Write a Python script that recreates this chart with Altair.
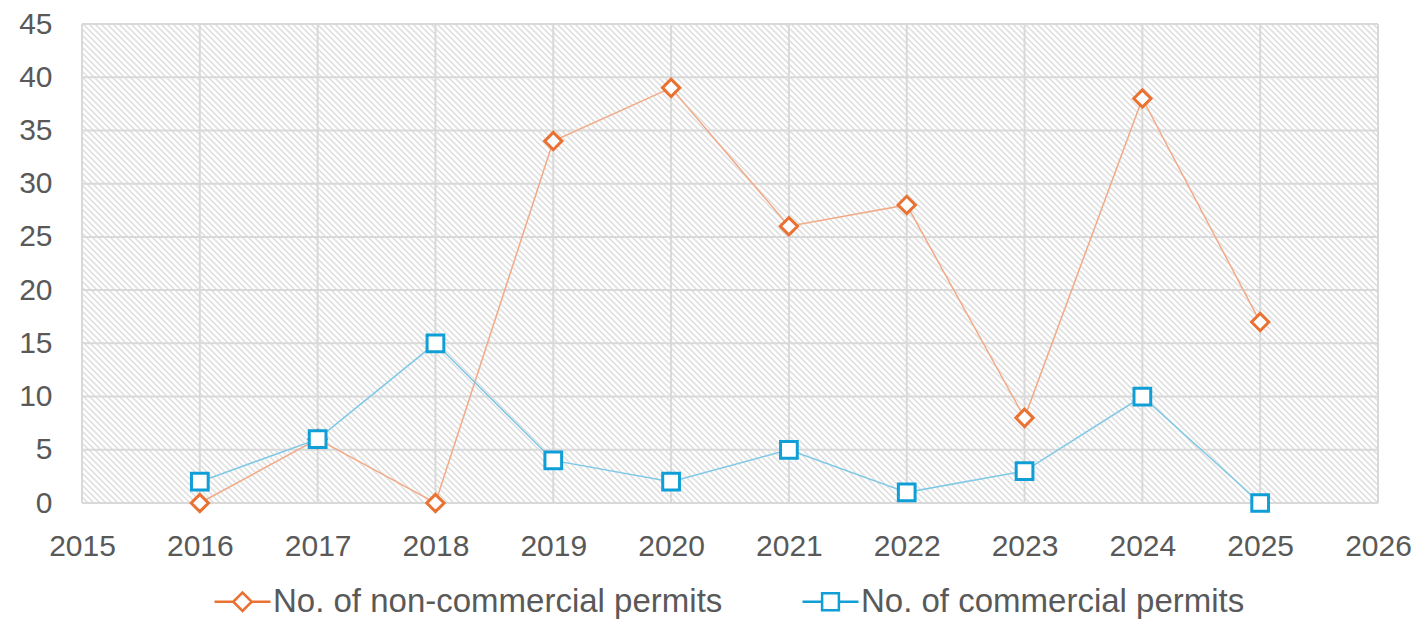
import altair as alt
import pandas as pd

years = [2016, 2017, 2018, 2019, 2020, 2021, 2022, 2023, 2024, 2025]
non_commercial = [0, 6, 0, 34, 39, 26, 28, 8, 38, 17]
commercial = [2, 6, 15, 4, 2, 5, 1, 3, 10, 0]
series_names = ["No. of non-commercial permits", "No. of commercial permits"]
x_ticks = list(range(2015, 2027))
y_ticks = list(range(0, 50, 5))

rows = []
for name, vals in zip(series_names, [non_commercial, commercial]):
    for yr, v in zip(years, vals):
        rows.append({"year": yr, "value": v, "series": name})
df = pd.DataFrame(rows)

W, H = 1296, 479
marker_colors = ["#E97132", "#0F9ED5"]
line_colors = ["#F2AA86", "#7FC8E6"]
text_color = "#595959"
grid_color = "#d9d9d9"
font = "Liberation Sans"

x0, x1 = x_ticks[0], x_ticks[-1]
y0, y1 = y_ticks[0], y_ticks[-1]
x_scale = alt.Scale(domain=[x0, x1], nice=False, zero=False)
y_scale = alt.Scale(domain=[y0, y1], nice=False)

x_axis = alt.Axis(
    values=x_ticks, format="d", title=None, grid=False, ticks=False, domain=False,
    labelPadding=28, labelFontSize=30, labelFont=font, labelColor=text_color,
    labelFlush=False, labelOverlap=False,
)
y_axis = alt.Axis(
    values=y_ticks, title=None, grid=False, ticks=False, domain=False,
    labelPadding=30, labelFontSize=30, labelFont=font, labelColor=text_color,
    labelFlush=False, labelOverlap=False,
)

# diagonal hatch texture of the plot area (downward diagonal, ~6px pitch)
pitch = 6
ux = W / (x1 - x0)
hatch_rows = []
for k in range(int((W + H) / pitch) + 2):
    start = -H + pitch * k
    hatch_rows.append({
        "hx": x0 + start / ux, "hy": y1,
        "hx2": x0 + (start + H) / ux, "hy2": y0,
    })
hatch_df = pd.DataFrame(hatch_rows)

hatch = alt.Chart(hatch_df).mark_rule(clip=True, strokeWidth=1.4, color="#dcdcdc").encode(
    x=alt.X("hx:Q", scale=x_scale, axis=x_axis),
    y=alt.Y("hy:Q", scale=y_scale, axis=y_axis),
    x2="hx2:Q", y2="hy2:Q",
)

vgrid = alt.Chart(pd.DataFrame({"gx": x_ticks})).mark_rule(color=grid_color, strokeWidth=2).encode(
    x=alt.X("gx:Q", scale=x_scale, axis=x_axis),
)
hgrid = alt.Chart(pd.DataFrame({"gy": y_ticks})).mark_rule(color=grid_color, strokeWidth=2).encode(
    y=alt.Y("gy:Q", scale=y_scale, axis=y_axis),
)

x_enc = alt.X("year:Q", scale=x_scale, axis=x_axis)
y_enc = alt.Y("value:Q", scale=y_scale, axis=y_axis)

base = alt.Chart(df)

line_nc = base.transform_filter(alt.datum.series == series_names[0]).mark_line(
    strokeWidth=1.5, color=line_colors[0]
).encode(x=x_enc, y=y_enc)
line_c = base.transform_filter(alt.datum.series == series_names[1]).mark_line(
    strokeWidth=1.5, color=line_colors[1]
).encode(x=x_enc, y=y_enc)

pts_nc = base.transform_filter(alt.datum.series == series_names[0]).mark_point(
    shape="diamond", size=300, filled=False, fill="white", stroke=marker_colors[0],
    strokeWidth=3, opacity=1,
).encode(x=x_enc, y=y_enc)

pts_c = base.transform_filter(alt.datum.series == series_names[1]).mark_point(
    shape="square", size=280, filled=False, fill="white", stroke=marker_colors[1],
    strokeWidth=3, opacity=1,
).encode(x=x_enc, y=y_enc)

legend_paths = [
    "M-1,0L-0.33,0M-0.33,0L0,-0.33L0.33,0L0,0.33ZM0.33,0L1,0",
    "M-1,0L-0.3,0M-0.3,-0.3L0.3,-0.3L0.3,0.3L-0.3,0.3ZM0.3,0L1,0",
]
leg = alt.Legend(
    orient="none", legendX=131, legendY=548, direction="horizontal", title=None,
    labelFontSize=33, labelFont=font, labelColor=text_color, labelLimit=800,
    symbolSize=3136, symbolStrokeWidth=2.5, symbolOpacity=1, symbolFillColor="white",
    labelOffset=1, columnPadding=74,
)
legend_layer = base.mark_point(strokeWidth=2.5, opacity=0).encode(
    x=x_enc, y=y_enc,
    stroke=alt.Stroke("series:N", scale=alt.Scale(domain=series_names, range=marker_colors), legend=leg),
    shape=alt.Shape("series:N", scale=alt.Scale(domain=series_names, range=legend_paths), legend=leg),
)

chart = alt.layer(hatch, vgrid, hgrid, line_nc, line_c, pts_nc, pts_c, legend_layer).properties(
    width=W, height=H,
    autosize=alt.AutoSizeParams(type="none"),
    padding={"left": 74, "top": 16, "right": 34, "bottom": 116},
).configure_view(strokeWidth=0)

chart.save("out.html", embed_options={"renderer": "svg", "actions": False})
